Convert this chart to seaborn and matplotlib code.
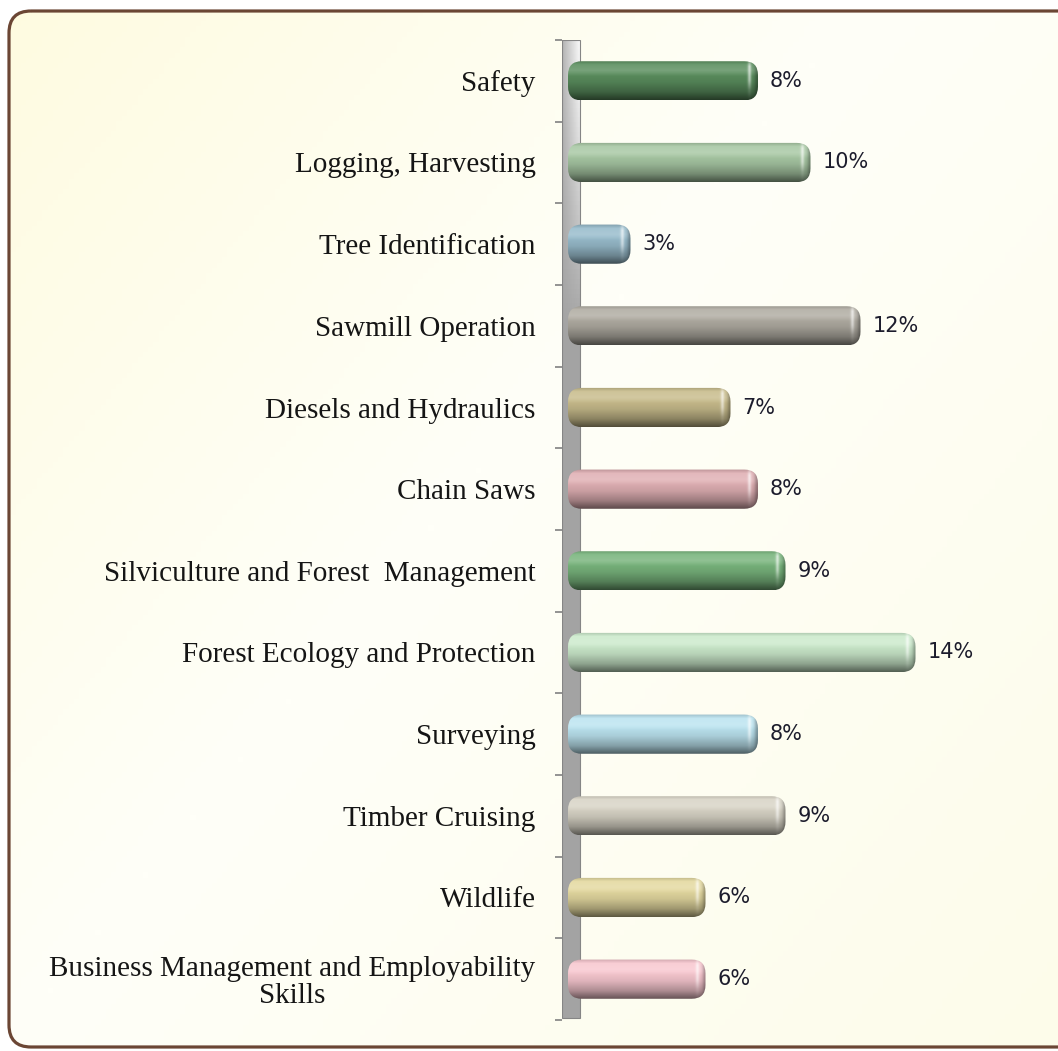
import numpy as np
import seaborn as sns
import matplotlib.pyplot as plt
from matplotlib.colors import to_rgb
from matplotlib.patches import FancyBboxPatch, Rectangle

# data
categories = ["Safety", "Logging, Harvesting", "Tree Identification", "Sawmill Operation",
              "Diesels and Hydraulics", "Chain Saws", "Silviculture and Forest  Management",
              "Forest Ecology and Protection", "Surveying", "Timber Cruising", "Wildlife",
              "Business Management and Employability\nSkills"]
values = [7.6, 9.7, 2.5, 11.7, 6.5, 7.6, 8.7, 13.9, 7.6, 8.7, 5.5, 5.5]
bar_colors = ["#5A8E5E", "#A8C8A4", "#98BCCC", "#B0ACA2", "#C8BC8C", "#E0B0B4",
              "#78B47C", "#CCEACC", "#BCE4F0", "#D8D4C6", "#E4D9A0", "#F8C8D0"]
value_labels = [f"{int(v + 0.5)}%" for v in values]

W, H = 1058, 1051
PX_X = 25.0          # pixels per percent
PX_Y = 980 / 12      # pixels per category


def cylinder(color, n_x, n_y=40):
    """Vertical cylinder shading with a rounded, highlighted right end."""
    base = np.array(to_rgb(color))
    t = np.linspace(0, 1, n_y)
    mult = np.interp(t, [0, 0.1, 0.3, 0.55, 0.8, 1.0], [0.85, 1.0, 1.0, 0.9, 0.7, 0.42])
    white = np.interp(t, [0, 0.12, 0.25, 0.4, 1], [0.0, 0.12, 0.18, 0.0, 0.0])
    col = base[None, :] * mult[:, None]
    col = col * (1 - white[:, None]) + white[:, None]
    img = np.repeat(col[:, None, :], n_x, axis=1)
    d = n_x - 1 - np.arange(n_x)
    shade = 1 - 0.3 * np.exp(-(d / 3.0) ** 2)
    img = img * shade[None, :, None]
    vw = np.interp(t, [0, 0.15, 0.5, 0.75, 1], [0.2, 1, 0.8, 0.2, 0])
    hl = 0.65 * np.exp(-((d - 8) / 1.8) ** 2)
    hl2 = vw[:, None] * hl[None, :]
    img = img * (1 - hl2[:, :, None]) + hl2[:, :, None]
    return np.clip(img, 0, 1)


sns.set_style("white")
fig = plt.figure(figsize=(W / 100, H / 100), dpi=100)
fig.patch.set_facecolor("white")

# background panel with rounded brown frame
bg = fig.add_axes([0, 0, 1, 1])
bg.set_xlim(0, W)
bg.set_ylim(H, 0)
bg.axis("off")
gy, gx = np.mgrid[0:1:200j, 0:1:200j]
tt = 0.55 * gx + 0.45 * gy
stops = [0, 0.45, 1]
cols = np.array([to_rgb("#FEFBE0"), to_rgb("#FFFFF8"), to_rgb("#FDFCEA")])
grad = np.stack([np.interp(tt, stops, cols[:, k]) for k in range(3)], axis=-1)
frame = FancyBboxPatch((9, 11), 1080, 1036, boxstyle="round,pad=0,rounding_size=22",
                       fc="none", ec="#6B4634", lw=2.3, zorder=2)
bg.add_patch(frame)
im = bg.imshow(grad, extent=[0, W, H, 0], aspect="auto", zorder=1)
im.set_clip_path(frame)
bg.set_xlim(0, W)
bg.set_ylim(H, 0)

# main chart
ax = fig.add_axes([562 / W, (H - 1020) / H, (1043 - 562) / W, 980 / H])
ax.set_facecolor("none")
sns.barplot(x=values, y=categories, orient="h", width=0.48, color="gray", ax=ax)

xmin, xmax = -0.24, 19.0
ymin, ymax = 11.5, -0.5

# 3D-ish wall behind bars
nwx, nwy = 18, 200
wy = np.linspace(0, 1, nwy)
r = np.interp(wy, [0, 0.05, 0.3, 1], [1.0, 0.9, 0.0, 0.0])
hx = np.linspace(0.2, 1, nwx)
g = 0.64
wall = g * (1 - r[:, None] * hx[None, :]) + 0.97 * r[:, None] * hx[None, :]
wall[:, 0] *= 0.85
wall_img = np.repeat(wall[:, :, None], 3, axis=2)
ax.imshow(wall_img, extent=[xmin, 0.48, 11.48, -0.5], aspect="auto", zorder=1)
ax.add_patch(Rectangle((xmin, -0.5), 0.48 - xmin, 11.98, fc="none", ec="#858585", lw=0.8, zorder=2))
ax.hlines(np.arange(-0.5, 12, 1), -0.52, xmin, colors="#8a8a8a", lw=1.3, clip_on=False, zorder=2)

aspect = PX_X / PX_Y
for p, c, lab in zip(ax.patches, bar_colors, value_labels):
    x0, y0, w, h = p.get_x(), p.get_y(), p.get_width(), p.get_height()
    p.set_visible(False)
    rb = FancyBboxPatch((x0, y0), w, h, boxstyle="round,pad=0,rounding_size=0.55",
                        mutation_aspect=aspect, fc="none", ec="none", zorder=3)
    ax.add_patch(rb)
    bar_img = cylinder(c, max(int(w * PX_X), 2))
    bim = ax.imshow(bar_img, extent=[x0, x0 + w, y0 + h, y0], aspect="auto",
                    interpolation="bilinear", zorder=3)
    bim.set_clip_path(rb)
    ax.text(x0 + w + 12 / PX_X, y0 + h / 2, lab, ha="left", va="center",
            fontsize=15, color="#1c1c2c", family="DejaVu Sans")

ax.set_xlim(xmin, xmax)
ax.set_ylim(ymin, ymax)
ax.set_yticks(range(len(categories)))
ax.set_yticklabels(categories, family="Liberation Serif", fontsize=21, color="#151515")
for t in ax.get_yticklabels():
    t.set_multialignment("center")
    t.set_linespacing(1.05)
ax.tick_params(axis="y", length=0, pad=19)
ax.set_xticks([])
ax.set_xlabel("")
ax.set_ylabel("")
for s in ax.spines.values():
    s.set_visible(False)

fig.savefig("out.png", dpi=100)
